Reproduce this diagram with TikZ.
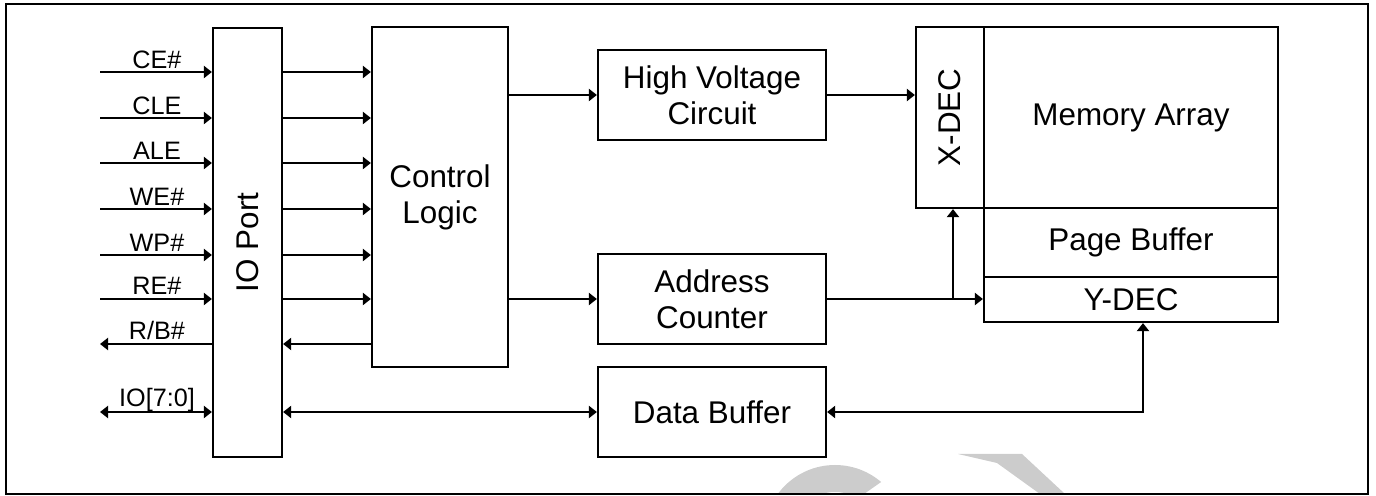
\documentclass[tikz,border=0pt]{standalone}
\usepackage{fontspec}
\setmainfont{Liberation Sans}
\usepackage{graphicx}
\usetikzlibrary{arrows.meta}
\begin{document}
\begin{tikzpicture}[x=0.5pt,y=-0.5pt,
  box/.style={draw, line width=1.1pt, inner sep=0pt, align=center, font=\fontsize{15.7}{18}\selectfont},
  sig/.style={line width=1.1pt, -{Triangle[length=4pt,width=6pt]}},
  dsig/.style={line width=1.1pt, {Triangle[length=4pt,width=6pt]}-{Triangle[length=4pt,width=6pt]}},
  lbl/.style={anchor=base, inner sep=0pt, font=\fontsize{12.6}{14}\selectfont},
  wm/.style={fill=black!20, draw=none}]
\useasboundingbox (0,0) rectangle (1376,496);

% watermark fragments
\begin{scope}
  \clip (700,494) -- (700,440) -- (941,440) -- (864,494) -- cycle;
  \fill[wm, even odd rule] (835,536) circle[radius=35.5pt] (835,536) circle[radius=22pt];
\end{scope}
\fill[wm] (958,454) -- (1022,454) -- (1065,494) -- (1040,494) -- (997,463) -- cycle;

% frame
\draw[line width=1.1pt] (6,4) rectangle (1368,494);

% blocks
\node[box, minimum width=34.5pt, minimum height=214.5pt] (io) at (247.5,242.5) {\rotatebox{90}{IO Port}};
\node[box, minimum width=68pt, minimum height=170pt] (ctrl) at (440,197) {Control\\Logic};
\node[box, minimum width=114pt, minimum height=45pt] (hv) at (712,95) {High Voltage\\Circuit};
\node[box, minimum width=114pt, minimum height=45pt] (ac) at (712,299) {Address\\Counter};
\node[box, minimum width=114pt, minimum height=45pt] (db) at (712,412) {Data Buffer};
\node[box, minimum width=34pt, minimum height=90.5pt] (xdec) at (950,117.5) {\rotatebox{90}{X-DEC}};
\node[box, minimum width=147pt, minimum height=90.5pt] (mem) at (1131,117.5) {Memory Array};
\node[box, minimum width=147pt, minimum height=34.5pt] (pb) at (1131,242.5) {Page Buffer};
\node[box, minimum width=147pt, minimum height=22.5pt] (ydec) at (1131,299.5) {Y-DEC};

% external signals
\coordinate (ce) at (100,72);
\coordinate (cle) at (100,118);
\coordinate (ale) at (100,163);
\coordinate (we) at (100,209);
\coordinate (wp) at (100,255);
\coordinate (re) at (100,299);
\coordinate (rb) at (100,344);
\coordinate (iod) at (100,412);

\node[lbl] (lce) at (157,69) {CE\#};
\node[lbl] (lcle) at (157,115) {CLE};
\node[lbl] (lale) at (157,160) {ALE};
\node[lbl] (lwe) at (157,206) {WE\#};
\node[lbl] (lwp) at (157,252) {WP\#};
\node[lbl] (lre) at (157,295) {RE\#};
\node[lbl] (lrb) at (157,340) {R/B\#};
\node[lbl] (liod) at (157,407) {IO[7:0]};

\foreach \c in {ce,cle,ale,we,wp,re}{
  \draw[sig] (\c) -- (io.west |- \c);
  \draw[sig] (io.east |- \c) -- (ctrl.west |- \c);
}
\draw[sig] (io.west |- rb) -- (rb);
\draw[sig] (ctrl.west |- rb) -- (io.east |- rb);
\draw[dsig] (iod) -- (io.west |- iod);
\draw[dsig] (io.east |- iod) -- (db.west);

% internal connections
\draw[sig] (ctrl.east |- hv.west) -- (hv.west);
\draw[sig] (ctrl.east |- ac.west) -- (ac.west);
\draw[sig] (hv.east) -- (xdec.west |- hv.east);
\draw[sig] (ac.east) -- (ydec.west |- ac.east);
\coordinate (j) at (953,299);
\draw[sig] (j) -- (j |- xdec.south);
\coordinate (yb) at (1143,412);
\draw[dsig] (db.east) -- (yb) -- (yb |- ydec.south);
\end{tikzpicture}
\end{document}
